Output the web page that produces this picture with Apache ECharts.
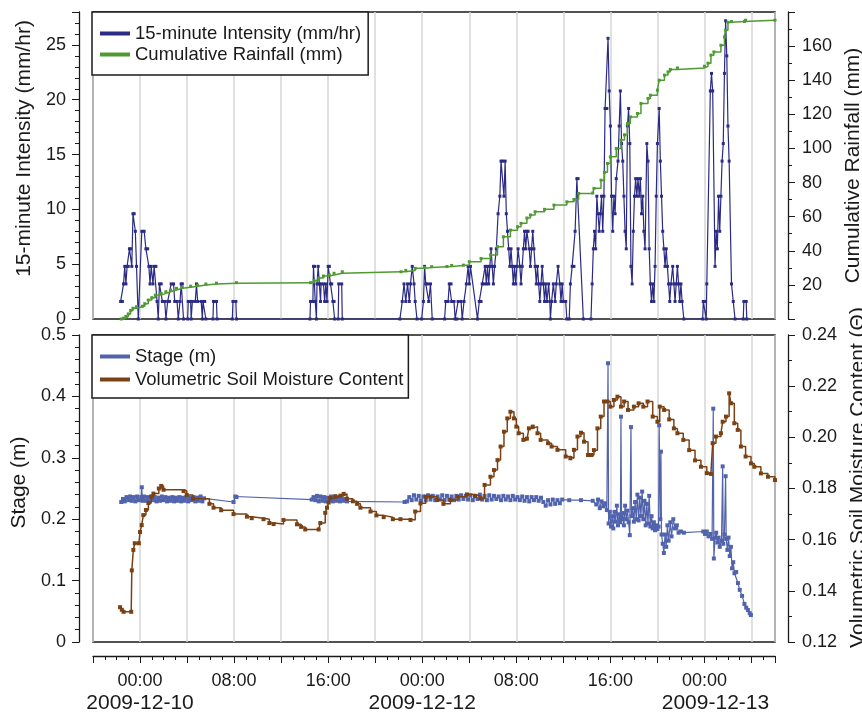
<!DOCTYPE html>
<html>
<head>
<meta charset="utf-8">
<script src="https://cdn.jsdelivr.net/npm/echarts@6/dist/echarts.min.js"></script>
<style>
  html, body { margin: 0; padding: 0; background: #fff; }
  #chart { width: 862px; height: 715px; }
</style>
</head>
<body>
<div id="chart"></div>
<script>
// hours from 2009-12-10 00:00
const xTickLabels = [
  { h: 0, time: '00:00', date: '2009-12-10' },
  { h: 8, time: '08:00', date: '' },
  { h: 16, time: '16:00', date: '' },
  { h: 24, time: '00:00', date: '2009-12-12' },
  { h: 32, time: '08:00', date: '' },
  { h: 40, time: '16:00', date: '' },
  { h: 48, time: '00:00', date: '2009-12-13' }
]

const seriesNames = ['15-minute Intensity (mm/hr)', 'Cumulative Rainfall (mm)', 'Stage (m)', 'Volumetric Soil Moisture Content']

// 15-minute intensity, mm/hr  [hour, value]
const intensity = [
  [-1.65,1.6],[-1.5,1.6],[-1.4,3.2],[-1.3,4.8],[-1.2,3.2],[-1.1,4.8],[-1.0,4.8],[-0.9,6.4],[-0.8,6.4],[-0.7,4.8],
  [-0.6,9.6],[-0.5,9.6],[-0.4,8.0],[-0.3,4.8],[-0.15,0],[0.15,8.0],[0.35,8.0],[0.5,6.4],[0.65,6.4],[0.75,4.8],
  [0.85,3.2],[0.95,4.8],[1.1,3.2],[1.2,4.8],[1.35,4.8],[1.45,1.6],[1.55,0],[1.65,3.2],[1.8,3.2],[1.9,1.6],
  [2.1,1.6],[2.2,0],[2.35,1.6],[2.5,1.6],[2.65,3.2],[2.85,3.2],[2.95,1.6],[3.15,1.6],[3.25,0],[3.4,1.6],
  [3.5,3.2],[3.6,3.2],[3.7,0],[4.05,0],[4.1,1.6],[4.3,1.6],[4.35,0],[4.45,1.6],[4.7,1.6],[4.8,3.2],
  [4.9,1.6],[5.2,1.6],[5.3,0],[5.35,1.6],[5.5,1.6],[5.6,0],[6.2,0],[6.25,1.6],[6.5,1.6],[6.55,0],
  [7.85,0],[7.9,1.6],[8.15,1.6],[8.2,0],
  [14.45,0],[14.5,1.6],[14.7,1.6],[14.75,4.8],[14.85,4.8],[14.9,1.6],[15.0,0],[15.05,3.2],[15.15,4.8],[15.25,3.2],
  [15.35,1.6],[15.4,3.2],[15.6,3.2],[15.7,1.6],[15.8,3.2],[15.9,1.6],[16.0,4.8],[16.1,4.8],[16.2,3.2],[16.3,3.2],
  [16.4,1.6],[16.5,1.6],[16.55,0],[16.85,0],[16.9,3.2],[17.15,3.2],[17.2,0],
  [22.1,0],[22.3,1.6],[22.45,3.2],[22.6,1.6],[22.75,3.2],[22.9,1.6],[23.0,3.2],[23.15,4.8],[23.3,3.2],[23.4,1.6],
  [23.55,0],[23.95,0],[24.1,1.6],[24.2,4.8],[24.3,3.2],[24.45,3.2],[24.55,1.6],[24.7,3.2],[24.85,0],
  [25.9,0],[26.0,1.6],[26.2,1.6],[26.3,3.2],[26.45,3.2],[26.5,1.6],[26.7,1.6],[26.8,0],[26.95,0],[27.05,1.6],
  [27.3,1.6],[27.4,0],[27.55,1.6],[27.75,3.2],[27.9,4.8],[28.0,3.2],[28.1,4.8],[28.7,0],[28.85,1.6],[29.0,1.6],
  [29.1,3.2],[29.25,3.2],[29.35,4.8],[29.45,3.2],[29.55,4.8],[29.65,3.2],[29.75,4.8],[29.85,6.4],[29.95,4.8],[30.05,3.2],
  [30.15,4.8],[30.3,6.4],[30.45,9.6],[30.6,11.2],[30.7,14.4],[30.85,14.4],[30.95,11.2],[31.05,14.4],[31.15,9.6],[31.25,8.0],
  [31.35,6.4],[31.45,4.8],[31.55,6.4],[31.65,4.8],[31.75,3.2],[31.85,4.8],[31.95,3.2],[32.05,4.8],[32.15,6.4],[32.3,4.8],
  [32.4,3.2],[32.5,4.8],[32.6,6.4],[32.7,8.0],[32.8,6.4],[32.9,8.0],[33.0,8.0],[33.1,6.4],[33.2,4.8],[33.3,6.4],
  [33.4,8.0],[33.5,6.4],[33.6,4.8],[33.7,3.2],[33.8,4.8],[33.9,3.2],[34.0,1.6],[34.1,3.2],[34.2,4.8],[34.3,3.2],
  [34.4,1.6],[34.5,3.2],[34.6,1.6],[34.75,3.2],[34.85,1.6],[34.9,0],[35.0,1.6],[35.15,3.2],[35.3,1.6],[35.4,3.2],
  [35.55,4.8],[35.7,3.2],[35.8,1.6],[35.9,3.2],[36.0,1.6],[36.2,1.6],[36.3,0],[36.5,0],[36.6,3.2],[36.75,4.8],
  [36.9,4.8],[37.0,8.0],[37.15,12.8],[37.25,12.8],[37.7,0],[38.35,0],[38.45,3.2],[38.55,6.4],[38.65,8.0],[38.75,6.4],
  [38.85,11.2],[38.95,9.6],[39.05,8.0],[39.15,9.6],[39.25,11.2],[39.35,8.0],[39.45,11.2],[39.55,19.2],[39.7,19.2],[39.8,25.6],
  [39.9,20.8],[40.0,17.6],[40.1,11.2],[40.2,8.0],[40.3,11.2],[40.4,9.6],[40.5,12.8],[40.65,14.4],[40.75,17.6],[40.85,20.8],
  [40.95,16.0],[41.05,14.4],[41.15,11.2],[41.25,8.0],[41.35,6.4],[41.45,17.6],[41.55,19.2],[41.65,16.0],[41.75,4.8],[41.85,3.2],
  [41.95,8.0],[42.05,11.2],[42.15,12.8],[42.25,11.2],[42.35,12.8],[42.45,11.2],[42.55,12.8],[42.65,9.6],[42.75,11.2],[42.85,8.0],
  [42.95,6.4],[43.1,16.0],[43.2,14.4],[43.3,6.4],[43.4,3.2],[43.5,1.6],[43.6,3.2],[43.7,1.6],[43.8,4.8],[43.9,11.2],
  [44.0,16.0],[44.15,19.2],[44.25,14.4],[44.35,11.2],[44.45,8.0],[44.55,6.4],[44.65,4.8],[44.75,6.4],[44.85,4.8],[44.95,3.2],
  [45.05,1.6],[45.15,3.2],[45.3,4.8],[45.4,3.2],[45.5,1.6],[45.6,3.2],[45.7,4.8],[45.8,3.2],[45.9,1.6],[46.0,3.2],
  [46.1,1.6],[46.25,0],[47.85,0],[47.9,1.6],[48.05,1.6],[48.15,0],[48.2,3.2],[48.5,20.8],[48.6,22.4],[48.7,20.8],
  [48.9,4.8],[49.0,8.0],[49.1,6.4],[49.2,11.2],[49.3,8.0],[49.4,11.2],[49.5,14.4],[49.6,16.0],[49.7,22.4],[49.8,27.2],
  [49.9,24.0],[50.0,17.6],[50.1,14.4],[50.3,3.2],[50.45,1.6],[50.6,0],[51.3,0],[51.35,1.6],[51.55,1.6],[51.6,0]
]

// cumulative rainfall, mm
const cumulative = [
  [-1.6,0],[-1.4,0.5],[-1.2,1.5],[-1.0,3],[-0.8,5],[-0.6,6.3],[-0.3,7.2],[0.2,7.5],[0.4,9],[0.7,11.1],
  [1.0,12.5],[1.3,14],[1.8,15],[2.2,16],[2.6,17],[3.1,18],[3.6,18.6],[4.3,19.2],[4.9,19.9],[5.6,20.5],
  [6.5,21],[8.2,21.3],[14.5,21.3],[14.8,22.5],[15.2,24],[15.6,25.2],[16.1,25.8],[16.5,26.8],[17.2,27.7],[22.2,27.7],
  [22.6,28.5],[23.4,29.7],[24.2,30.2],[24.8,30.7],[26.1,30.8],[26.5,31.4],[27.5,31.6],[28.0,33.6],[29.0,35.5],[29.8,37.5],
  [30.4,42.4],[30.9,48.2],[31.5,52.1],[32.1,54.1],[32.4,56.1],[32.9,59.2],[33.2,61],[33.6,62.9],[34.4,64.3],[35.2,66.8],
  [36.3,68.7],[36.9,70.1],[37.3,73.6],[38.5,73.9],[38.6,76.6],[39.2,81.4],[39.5,86],[39.75,91.2],[40.0,95.1],[40.5,100],
  [40.9,104.9],[41.2,108],[41.45,114.6],[41.7,118.5],[42.3,120.5],[42.6,126.4],[43.2,129.3],[43.4,131.2],[44.0,134.2],[44.15,140],
  [44.6,143],[44.9,144.9],[45.1,146.3],[45.7,147.2],[48.0,148.2],[48.3,150],[48.55,154.7],[48.8,156.6],[49.4,160.5],[49.7,165.4],
  [49.8,169.3],[50.0,174],[50.3,174.4],[51.4,174.4],[51.5,175.2],[54,175.2]
]

// stage, m
const stage = [
  [-1.6,0.228],[-1.45,0.233],[-1.3,0.229],[-1.15,0.236],[-1.0,0.231],[-0.85,0.237],[-0.7,0.230],[-0.55,0.236],[-0.4,0.229],[-0.25,0.237],
  [-0.1,0.231],[0.1,0.236],[0.15,0.252],[0.2,0.230],[0.35,0.237],[0.5,0.230],[0.65,0.236],[0.8,0.229],[0.95,0.237],[1.1,0.231],
  [1.25,0.236],[1.4,0.229],[1.55,0.235],[1.7,0.230],[1.85,0.237],[2.0,0.231],[2.15,0.236],[2.3,0.229],[2.45,0.235],[2.6,0.230],
  [2.75,0.236],[2.9,0.229],[3.05,0.235],[3.2,0.230],[3.35,0.236],[3.5,0.229],[3.65,0.235],[3.8,0.230],[3.95,0.236],[4.1,0.229],
  [4.25,0.235],[4.4,0.231],[4.55,0.236],[4.7,0.229],[4.85,0.235],[5.0,0.230],[5.15,0.237],[5.3,0.229],[5.45,0.234],
  [7.95,0.228],[8.1,0.237],[8.2,0.236],[14.6,0.232],
  [14.75,0.236],[14.9,0.231],[15.05,0.238],[15.2,0.229],[15.35,0.237],[15.5,0.230],[15.65,0.236],[15.8,0.229],[15.95,0.235],[16.1,0.231],
  [16.25,0.237],[16.4,0.229],[16.55,0.235],[16.7,0.230],[16.85,0.236],[17.0,0.229],[17.15,0.234],[17.3,0.230],[17.45,0.233],[17.6,0.229],
  [22.5,0.228],
  [22.7,0.229],[22.9,0.236],[23.1,0.231],[23.3,0.239],[23.5,0.232],[23.7,0.238],[23.9,0.230],[24.1,0.237],[24.3,0.231],[24.5,0.239],
  [24.7,0.232],[24.9,0.238],[25.1,0.231],[25.3,0.237],[25.5,0.232],[25.7,0.239],[25.9,0.231],[26.1,0.238],[26.3,0.232],[26.5,0.237],
  [26.7,0.231],[26.9,0.238],[27.1,0.232],[27.3,0.239],[27.5,0.233],[27.7,0.238],[27.9,0.232],[28.1,0.239],[28.3,0.231],[28.5,0.238],
  [28.7,0.233],[28.9,0.240],[29.1,0.232],[29.3,0.238],[29.5,0.231],[29.7,0.239],[29.9,0.232],[30.1,0.238],[30.3,0.233],[30.5,0.237],
  [30.7,0.231],[30.9,0.238],[31.1,0.232],[31.3,0.237],[31.5,0.231],[31.7,0.238],[31.9,0.232],[32.1,0.236],[32.3,0.231],[32.5,0.237],
  [32.7,0.230],[32.9,0.236],[33.1,0.229],[33.3,0.236],[33.5,0.231],[33.7,0.236],[33.9,0.230],[34.1,0.235],[34.3,0.228],[34.5,0.222],
  [34.7,0.231],[34.9,0.224],[35.1,0.232],[35.3,0.225],[35.5,0.231],[35.7,0.226],[35.9,0.232],[36.5,0.231],[37.5,0.231],[38.5,0.230],
  [38.8,0.224],[38.95,0.232],[39.1,0.218],[39.25,0.229],[39.4,0.221],[39.55,0.226],[39.7,0.215],[39.8,0.454],[39.85,0.193],[39.95,0.212],
  [40.05,0.188],[40.15,0.205],[40.25,0.185],[40.35,0.212],[40.45,0.196],[40.55,0.222],[40.65,0.190],[40.75,0.208],[40.85,0.195],[40.9,0.367],
  [40.95,0.200],[41.05,0.210],[41.15,0.190],[41.25,0.222],[41.35,0.200],[41.45,0.214],[41.55,0.195],[41.65,0.174],[41.75,0.350],[41.8,0.205],
  [41.9,0.218],[42.0,0.196],[42.1,0.228],[42.2,0.200],[42.3,0.240],[42.4,0.198],[42.5,0.235],[42.6,0.205],[42.7,0.245],[42.8,0.200],
  [42.9,0.230],[43.0,0.190],[43.1,0.225],[43.2,0.193],[43.3,0.238],[43.4,0.188],[43.5,0.205],[43.6,0.185],[43.7,0.195],[43.8,0.182],
  [43.9,0.190],[44.0,0.184],[44.1,0.188],[44.15,0.353],[44.25,0.200],[44.3,0.310],[44.35,0.175],[44.45,0.160],[44.55,0.145],[44.65,0.175],
  [44.75,0.155],[44.85,0.190],[44.95,0.165],[45.1,0.195],[45.2,0.172],[45.35,0.200],[45.5,0.185],[45.65,0.190],[45.8,0.178],[46.0,0.180],
  [46.25,0.178],[47.9,0.180],
  [48.05,0.176],[48.2,0.180],[48.35,0.172],[48.5,0.176],[48.65,0.168],[48.75,0.380],[48.8,0.136],[48.9,0.170],[49.0,0.178],[49.1,0.162],
  [49.2,0.170],[49.3,0.155],[49.45,0.165],[49.55,0.286],[49.6,0.160],[49.7,0.175],[49.8,0.270],[49.85,0.168],[49.95,0.150],[50.05,0.170],
  [50.15,0.140],[50.25,0.155],[50.35,0.120],[50.45,0.130],[50.55,0.112],[50.7,0.114],[50.85,0.096],[51.0,0.085],[51.2,0.075],[51.4,0.062],
  [51.55,0.056],[51.7,0.052],[51.85,0.047],[51.95,0.044]
]

// volumetric soil moisture content
const moisture = [
  [-1.70,0.1336],[-1.55,0.1326],[-1.4,0.1318],[-0.75,0.1318],[-0.7,0.148],[-0.57,0.156],[-0.45,0.1586],[-0.1,0.1586],[0,0.163],[0.14,0.1657],
  [0.28,0.1696],[0.5,0.1716],[0.71,0.1743],[0.95,0.1768],[1.14,0.178],[1.6,0.180],[1.8,0.181],[2.0,0.1795],[3.7,0.1790],[3.97,0.1775],
  [4.5,0.176],[5.9,0.174],[6.25,0.1725],[6.9,0.1715],[7.95,0.170],[9.09,0.169],[9.5,0.1684],[10.5,0.168],[11.0,0.1665],[11.36,0.1661],
  [12.2,0.1677],[13.35,0.166],[13.7,0.165],[14.05,0.164],[15.19,0.164],[15.33,0.1665],[15.75,0.1705],[15.9,0.1725],[16.04,0.1745],[16.18,0.1763],
  [16.6,0.177],[17.04,0.1772],[17.32,0.1779],[17.6,0.176],[18.1,0.175],[18.46,0.174],[18.74,0.1725],[19.6,0.171],[20.1,0.1695],[20.72,0.1688],
  [21.5,0.168],[22.15,0.168],[23.0,0.1677],[23.4,0.1710],[23.85,0.1742],[24.3,0.1768],[24.7,0.1768],[25.27,0.1755],[25.8,0.1740],[26.4,0.1755],
  [27.0,0.1768],[27.8,0.1777],[28.5,0.1770],[28.96,0.1761],[29.3,0.1814],[29.8,0.1846],[30.1,0.1872],[30.4,0.1911],[30.66,0.1964],[30.95,0.2022],
  [31.23,0.2074],[31.5,0.2100],[31.8,0.2074],[32.0,0.2042],[32.2,0.2016],[32.6,0.1990],[32.9,0.1995],[33.07,0.2035],[33.4,0.2042],[33.8,0.2016],
  [34.07,0.1990],[34.7,0.1977],[35.0,0.1964],[35.5,0.1951],[36.2,0.1925],[36.6,0.1918],[36.9,0.1951],[37.2,0.2003],[37.5,0.2018],[37.76,0.1983],
  [38.1,0.1931],[38.4,0.1931],[38.6,0.1950],[38.9,0.2035],[39.18,0.2081],[39.46,0.2140],[39.75,0.2140],[40.0,0.2120],[40.3,0.2146],[40.6,0.2159],
  [40.9,0.2120],[41.17,0.2140],[41.5,0.2107],[42.0,0.2120],[42.4,0.2133],[42.8,0.2120],[43.16,0.2140],[43.6,0.2081],[44.0,0.2061],[44.2,0.2120],
  [44.57,0.2107],[45.0,0.2070],[45.4,0.2035],[45.7,0.2016],[46.2,0.1990],[46.7,0.1950],[47.2,0.1910],[47.7,0.1885],[48.2,0.1860],[48.55,0.1857],
  [48.7,0.1977],[48.98,0.2003],[49.4,0.2016],[49.55,0.2061],[49.83,0.2081],[50.1,0.2172],[50.26,0.2133],[50.54,0.2055],[50.83,0.2029],[51.1,0.1964],
  [51.5,0.1925],[51.96,0.1898],[52.24,0.1885],[52.8,0.1859],[53.4,0.1846],[54.0,0.1833]
]

const FONT = "'Liberation Sans', Arial, Helvetica, sans-serif"
const INK = '#1a1a1a'
const GRIDLINE = '#d6d6d6'
const colors = { intensity: '#2b2a85', cumulative: '#4f9a31', stage: '#5263ad', moisture: '#7a4214' }

const chart = echarts.init(document.getElementById('chart'), null, { renderer: 'canvas' })

// shared style for the y axes
const yAxisBase = (extra) => Object.assign({
  type: 'value',
  nameLocation: 'middle',
  nameRotate: 90,
  nameTextStyle: { fontFamily: FONT, fontSize: 21, color: INK },
  axisLine: { show: true, onZero: false, lineStyle: { color: INK, width: 1.3 } },
  axisTick: { show: true, length: 7, lineStyle: { color: INK, width: 1 } },
  minorTick: { show: true, length: 4, lineStyle: { color: INK, width: 1 } },
  splitLine: { show: false },
  axisLabel: { fontFamily: FONT, fontSize: 18, color: INK }
}, extra)

const xLabel = (v) => {
  const t = xTickLabels.find((k) => Math.abs(k.h - v) < 1e-6)
  if (!t) return ''
  if (!t.date) return `{t|${t.time}}`
  return `{t|${t.time}}\n{${t.h === 48 ? 'd2' : 'd'}|${t.date}}`
}

const legendBase = {
  orient: 'vertical',
  left: 92,
  icon: 'rect',
  itemWidth: 30,
  itemHeight: 4,
  itemGap: 0,
  backgroundColor: '#fff',
  borderColor: INK,
  borderWidth: 1.5,
  borderRadius: 0,
  selectedMode: false
}

const option = {
  animation: false,
  backgroundColor: '#fff',
  grid: [
    { left: 93, top: 12, width: 682, height: 307, outerBoundsMode: 'none', containLabel: false,
      show: true, borderColor: INK, borderWidth: 1.5, backgroundColor: 'transparent' },
    { left: 93, top: 335, width: 682, height: 307, outerBoundsMode: 'none', containLabel: false,
      show: true, borderColor: INK, borderWidth: 1.5, backgroundColor: 'transparent' }
  ],
  legend: [
    Object.assign({}, legendBase, {
      top: 12,
      padding: [11, 7, 10, 8],
      data: [seriesNames[0], seriesNames[1]],
      textStyle: { fontFamily: FONT, fontSize: 18.5, color: INK, lineHeight: 21 }
    }),
    Object.assign({}, legendBase, {
      top: 335,
      padding: [10, 5, 7, 8],
      data: [seriesNames[2], seriesNames[3]],
      textStyle: { fontFamily: FONT, fontSize: 18.5, color: INK, lineHeight: 23 }
    })
  ],
  xAxis: [
    {
      gridIndex: 0, type: 'value', min: -4, max: 54, interval: 4,
      axisLine: { show: false }, axisTick: { show: false }, axisLabel: { show: false },
      splitLine: { show: true, lineStyle: { color: GRIDLINE, width: 1.5 } }
    },
    {
      gridIndex: 1, type: 'value', min: -4, max: 54, interval: 4, position: 'bottom', offset: 14,
      axisLine: { show: true, onZero: false, lineStyle: { color: INK, width: 1.3 } },
      axisTick: { show: true, length: 7, lineStyle: { color: INK, width: 1 } },
      minorTick: { show: true, splitNumber: 4, length: 4, lineStyle: { color: INK, width: 1 } },
      splitLine: { show: true, lineStyle: { color: GRIDLINE, width: 1.5 } },
      axisLabel: {
        margin: 15,
        formatter: xLabel,
        rich: {
          t: { fontFamily: FONT, fontSize: 18, lineHeight: 21, color: INK },
          d: { fontFamily: FONT, fontSize: 21, lineHeight: 23, color: INK },
          d2: { fontFamily: FONT, fontSize: 21, lineHeight: 23, color: INK, padding: [0, 0, 0, 22] }
        }
      }
    }
  ],
  yAxis: [
    yAxisBase({
      gridIndex: 0, min: 0, max: 28, interval: 5, position: 'left', offset: 14,
      name: '15-minute Intensity (mm/hr)', nameGap: 32,
      nameTextStyle: { fontFamily: FONT, fontSize: 21, color: INK, padding: [0, 0, 0, 34] },
      minorTick: { show: true, splitNumber: 5, length: 4, lineStyle: { color: INK, width: 1 } },
      axisLabel: { fontFamily: FONT, fontSize: 18, color: INK, margin: 13, formatter: (v) => (v % 5 === 0 ? String(v) : '') }
    }),
    yAxisBase({
      gridIndex: 0, min: 0, max: 180, interval: 20, position: 'right', offset: 13,
      name: 'Cumulative Rainfall (mm)', nameGap: 52,
      minorTick: { show: true, splitNumber: 2, length: 4, lineStyle: { color: INK, width: 1 } },
      axisLabel: { fontFamily: FONT, fontSize: 18, color: INK, margin: 14, formatter: (v) => (v === 0 || v === 180 ? '' : String(v)) }
    }),
    yAxisBase({
      gridIndex: 1, min: 0, max: 0.5, interval: 0.1, position: 'left', offset: 14,
      name: 'Stage (m)', nameGap: 39,
      nameTextStyle: { fontFamily: FONT, fontSize: 21, color: INK, padding: [0, 0, 0, 12] },
      minorTick: { show: true, splitNumber: 5, length: 4, lineStyle: { color: INK, width: 1 } },
      axisLabel: { fontFamily: FONT, fontSize: 18, color: INK, margin: 13, formatter: (v) => (Math.abs(v) < 1e-9 ? '0' : v.toFixed(1)) }
    }),
    yAxisBase({
      gridIndex: 1, min: 0.12, max: 0.24, interval: 0.02, position: 'right', offset: 13,
      name: 'Volumetric Soil Moisture Content (\u0398)', nameGap: 60,
      nameTextStyle: { fontFamily: FONT, fontSize: 21, color: INK, padding: [0, 0, 0, 22] },
      minorTick: { show: true, splitNumber: 2, length: 4, lineStyle: { color: INK, width: 1 } },
      axisLabel: { fontFamily: FONT, fontSize: 18, color: INK, margin: 14, formatter: (v) => v.toFixed(2) }
    })
  ],
  series: [
    {
      name: seriesNames[0], type: 'line', xAxisIndex: 0, yAxisIndex: 0, data: intensity,
      symbol: 'rect', symbolSize: 3, lineStyle: { width: 1.2, color: colors.intensity },
      itemStyle: { color: colors.intensity }, z: 3
    },
    {
      name: seriesNames[1], type: 'line', xAxisIndex: 0, yAxisIndex: 1, data: cumulative, step: 'end',
      symbol: 'rect', symbolSize: 3, lineStyle: { width: 1.5, color: colors.cumulative },
      itemStyle: { color: colors.cumulative }, z: 4
    },
    {
      name: seriesNames[2], type: 'line', xAxisIndex: 1, yAxisIndex: 2, data: stage,
      symbol: 'rect', symbolSize: 4, lineStyle: { width: 1.2, color: colors.stage },
      itemStyle: { color: colors.stage }, z: 3
    },
    {
      name: seriesNames[3], type: 'line', xAxisIndex: 1, yAxisIndex: 3, data: moisture, step: 'end',
      symbol: 'rect', symbolSize: 4, lineStyle: { width: 1.5, color: colors.moisture },
      itemStyle: { color: colors.moisture }, z: 4
    }
  ]
}

chart.setOption(option)
</script>
</body>
</html>
